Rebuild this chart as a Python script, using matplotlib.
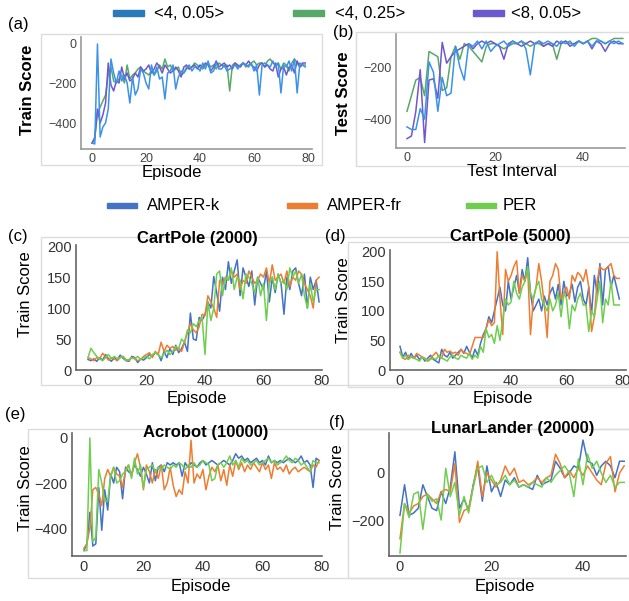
import numpy as np
import matplotlib.pyplot as plt
from matplotlib.patches import Rectangle

plt.rcParams['font.family'] = ['Liberation Sans', 'DejaVu Sans']

# ---- data ----
hp_labels = ['<4, 0.05>', '<4, 0.25>', '<8, 0.05>']
algo_labels = ['AMPER-k', 'AMPER-fr', 'PER']

# (a) train score per episode, three hyper-parameter settings
a_blue = [-500, -505, -5, -470, -420, -400, -330, -80, -150, -200, -140, -190, -160, -200, -300, -170,
          -260, -230, -130, -150, -200, -230, -110, -160, -120, -180, -170, -280, -150, -140, -110, -230,
          -170, -140, -150, -130, -110, -140, -120, -120, -140, -100, -130, -90, -150, -140, -100, -130,
          -130, -110, -140, -130, -120, -110, -130, -110, -100, -110, -120, -100, -140, -110, -260, -110,
          -100, -110, -120, -90, -120, -100, -250, -110, -120, -90, -140, -80, -250, -100, -110, -120]
a_green = [-500, -470, -350, -320, -290, -260, -160, -120, -190, -200, -180, -160, -200, -110, -180, -160,
           -150, -130, -120, -140, -150, -160, -140, -160, -140, -110, -130, -80, -120, -110, -140, -130,
           -120, -160, -150, -120, -130, -120, -100, -110, -120, -130, -110, -100, -120, -110, -130, -100,
           -110, -120, -110, -240, -110, -100, -120, -110, -100, -120, -110, -100, -90, -110, -100, -100,
           -120, -90, -80, -100, -110, -100, -130, -100, -110, -140, -100, -80, -100, -120, -110, -110]
a_purple = [-500, -480, -330, -400, -360, -300, -100, -210, -240, -190, -200, -120, -180, -150, -190, -180,
            -150, -170, -120, -140, -130, -110, -150, -130, -100, -120, -150, -110, -130, -150, -140, -120,
            -140, -170, -120, -110, -130, -120, -110, -130, -110, -120, -100, -110, -140, -120, -90, -120,
            -110, -100, -120, -110, -130, -100, -110, -120, -100, -110, -90, -110, -120, -140, -110, -100,
            -120, -110, -130, -140, -100, -170, -130, -120, -160, -120, -110, -150, -90, -120, -100, -100]

# (b) test score per test interval
b_blue = [-430, -440, -440, -360, -400, -180, -220, -370, -240, -310, -300, -120, -200, -250, -110, -120,
          -100, -130, -100, -140, -120, -110, -100, -120, -100, -110, -100, -130, -230, -110, -100, -110,
          -100, -110, -120, -100, -110, -100, -120, -100, -110, -100, -120, -100, -100, -110, -100, -110,
          -100, -110]
b_green = [-370, -310, -250, -240, -310, -140, -150, -160, -290, -280, -160, -120, -170, -110, -120, -140,
           -160, -180, -120, -110, -110, -120, -130, -120, -110, -110, -100, -110, -120, -110, -110, -120,
           -110, -110, -170, -110, -100, -110, -110, -100, -110, -100, -90, -90, -100, -110, -100, -90,
           -90, -90]
b_purple = [-475, -465, -370, -210, -490, -250, -245, -320, -105, -185, -160, -140, -130, -120, -110, -130,
            -110, -100, -110, -100, -110, -120, -170, -110, -100, -110, -120, -110, -100, -110, -100, -120,
            -110, -120, -100, -110, -100, -120, -110, -100, -110, -100, -130, -100, -110, -140, -110, -100,
            -110, -110]

# (c) CartPole (2000)
c_k = [17, 15, 18, 14, 20, 16, 25, 18, 14, 20, 17, 24, 19, 15, 14, 22, 20, 12, 18, 16,
       20, 25, 22, 28, 26, 15, 30, 20, 35, 25, 40, 28, 35, 45, 30, 92, 50, 48, 85, 80,
       90, 110, 100, 151, 125, 95, 150, 130, 175, 140, 160, 178, 120, 165, 150, 135, 160, 105, 150, 140,
       130, 160, 110, 150, 125, 155, 140, 90, 150, 130, 160, 165, 140, 120, 155, 100, 150, 130, 145, 110]
c_fr = [20, 18, 15, 20, 18, 27, 22, 16, 20, 18, 15, 20, 22, 17, 15, 20, 18, 15, 17, 22,
        25, 28, 20, 30, 25, 45, 30, 40, 35, 38, 32, 35, 30, 45, 60, 75, 65, 60, 70, 90,
        88, 120, 110, 100, 85, 145, 140, 150, 145, 160, 150, 155, 130, 145, 140, 160, 150, 140, 145, 155,
        150, 165, 140, 170, 145, 150, 155, 140, 160, 135, 150, 145, 160, 155, 140, 130, 120, 100, 145, 150]
c_per = [20, 35, 28, 22, 18, 15, 20, 25, 18, 22, 18, 20, 22, 15, 17, 20, 18, 22, 17, 20,
         22, 18, 25, 28, 24, 20, 26, 32, 25, 30, 38, 35, 50, 45, 65, 60, 75, 70, 80, 85,
         25, 110, 80, 100, 155, 160, 120, 150, 145, 165, 130, 150, 145, 115, 155, 150, 140, 125, 150, 120,
         140, 80, 140, 150, 130, 155, 140, 145, 130, 165, 150, 160, 140, 155, 120, 100, 140, 110, 130, 130]

# (d) CartPole (5000)
d_k = [40, 22, 30, 18, 28, 20, 25, 18, 22, 15, 20, 25, 18, 15, 12, 35, 25, 22, 30, 20,
       25, 30, 35, 28, 40, 30, 20, 35, 25, 45, 60, 70, 90, 80, 100, 120, 140, 110, 100, 150,
       120, 140, 160, 130, 170, 150, 190, 130, 100, 110, 120, 100, 125, 110, 130, 140, 120, 145, 110, 150,
       125, 130, 145, 115, 140, 150, 120, 110, 140, 95, 160, 130, 180, 110, 170, 175, 140, 160, 140, 120]
d_fr = [30, 20, 18, 25, 22, 20, 28, 25, 22, 18, 15, 20, 25, 30, 22, 20, 35, 30, 32, 28,
        30, 25, 35, 30, 28, 25, 40, 55, 55, 55, 55, 70, 85, 75, 80, 200, 120, 60, 170, 150,
        160, 175, 185, 130, 160, 150, 170, 60, 120, 140, 180, 150, 110, 55, 150, 160, 180, 170, 120, 130,
        140, 120, 160, 150, 165, 160, 150, 170, 140, 65, 90, 150, 175, 170, 170, 175, 180, 160, 155, 155]
d_per = [30, 20, 25, 18, 22, 20, 18, 15, 22, 20, 15, 18, 20, 18, 25, 20, 18, 15, 22, 25,
         20, 18, 25, 22, 20, 28, 18, 25, 20, 40, 30, 70, 55, 60, 45, 75, 50, 85, 120, 110,
         115, 150, 130, 120, 140, 150, 175, 130, 120, 140, 150, 120, 110, 100, 120, 100, 110, 130, 90, 130,
         120, 70, 110, 100, 120, 130, 110, 110, 65, 100, 90, 120, 150, 80, 120, 110, 150, 110, 110, 110]

# (e) Acrobot (10000)
e_k = [-500, -470, -330, -480, -470, -220, -410, -230, -320, -160, -200, -130, -150, -270, -130, -150,
       -160, -120, -140, -170, -130, -160, -200, -110, -190, -130, -120, -150, -110, -120, -110, -120,
       -110, -170, -110, -130, -110, -120, -130, -110, -100, -120, -110, -100, -110, -120, -110, -100,
       -110, -120, -100, -70, -90, -80, -100, -90, -110, -100, -90, -110, -100, -120, -80, -110,
       -100, -110, -100, -110, -100, -90, -100, -110, -100, -80, -110, -100, -120, -220, -90, -100]
e_fr = [-490, -470, -400, -230, -220, -250, -300, -180, -140, -170, -130, -160, -170, -220, -140, -120,
        -170, -110, -70, -130, -230, -120, -150, -200, -140, -180, -120, -230, -200, -130, -210, -260,
        -230, -250, -150, -200, -10, -200, -160, -180, -140, -230, -170, -130, -150, -120, -190, -140,
        -210, -120, -170, -100, -140, -110, -150, -120, -140, -110, -130, -150, -110, -140, -120, -180,
        -110, -140, -130, -150, -120, -160, -140, -130, -150, -140, -130, -140, -150, -120, -130, -100]
e_per = [-500, -500, 0, -460, -440, -140, -200, -280, -280, -170, -130, -200, -190, -160, -150, -120,
         -180, -90, -160, -120, -220, -140, -130, -120, -150, -130, -140, -120, -130, -140, -120, -130,
         -110, -120, -140, -120, -130, -110, -130, -120, -100, -110, -120, -190, -180, -120, -110, -130,
         -110, -80, -120, -100, -130, -90, -110, -100, -120, -110, -100, -120, -110, -100, -90, -110,
         -100, -120, -110, -100, -80, -100, -110, -90, -100, -120, -110, -130, -150, -100, -110, -110]

# (f) LunarLander (20000)
f_k = [-180, -50, -180, -170, -150, -50, -100, -150, -160, -80, -130, -60, 90, -150, -110, -160,
       -50, 30, -120, 30, -80, -40, -100, -30, -50, -20, -60, -50, -60, -70, -10, -50,
       -40, -30, 50, 20, -20, 0, 30, 20, 140, 50, 40, -10, 30, 50, 30, -20, 50, 50]
f_fr = [-280, -130, -170, -140, -130, -100, -90, -110, -130, -80, -70, -80, 40, -210, -160, -150,
        -60, 50, -100, 0, -30, -60, -30, 30, -10, 20, -40, -30, -50, -40, -20, -40,
        -20, -10, 80, 40, -20, 10, -20, 20, -10, 30, 0, -30, -50, 40, 70, -80, 0, 30]
f_per = [-340, -130, -190, -90, -80, -240, -90, -120, -110, -200, 20, -100, -40, -180, -100, -170,
         -60, 20, 30, -40, -10, -50, -40, -10, -50, -30, -60, -50, -60, -40, -50, -60,
         -20, -40, -10, 10, 30, 0, -100, 60, -50, 80, 20, 50, 0, -40, -10, -60, -40, -40]

# ---- styling ----
hp_line = ['#3a92ea', '#5aa868', '#6f58cf']
hp_patch = ['#2a7ab9', '#55a868', '#6a5acd']
algo_col = ['#4472c4', '#ed7d31', '#6fce4f']

W, H = 629, 601
fig = plt.figure(figsize=(W / 100, H / 100), dpi=100)


def add_ax(l, t, r, b):
    return fig.add_axes([l / W, 1 - b / H, (r - l) / W, (b - t) / H])


def txt(x, y, s, **kw):
    kw.setdefault('ha', 'center')
    kw.setdefault('va', 'center')
    fig.text(x / W, 1 - y / H, s, **kw)


def frame(l, t, r, b):
    fig.patches.append(Rectangle((l / W, 1 - b / H), (r - l) / W, (b - t) / H, transform=fig.transFigure,
                                 fill=False, edgecolor='#dcdcdc', lw=1, zorder=0))


def style(ax, size, tcol, scol):
    for s in ['top', 'right']:
        ax.spines[s].set_visible(False)
    for s in ['left', 'bottom']:
        ax.spines[s].set_color(scol)
        ax.spines[s].set_linewidth(1.2)
    ax.tick_params(length=0, labelsize=size, labelcolor=tcol, pad=3)


# frames of the original sub-figures
frame(41, 34, 322, 165)
frame(356, 32, 640, 166)
frame(41, 237, 640, 385)
frame(348, 242, 640, 387)
frame(28, 429, 640, 578)
frame(348, 429, 640, 578)

# top legend
for i, (x0, xt) in enumerate([(113, 154), (293, 335), (473, 511)]):
    fig.patches.append(Rectangle((x0 / W, 1 - 16 / H), 31 / W, 6 / H, transform=fig.transFigure,
                                 color=hp_patch[i]))
    txt(xt, 13, hp_labels[i], ha='left', fontsize=12)

# middle legend
for i, (x0, xt) in enumerate([(107, 147), (287, 327), (466, 503)]):
    fig.patches.append(Rectangle((x0 / W, 1 - 208 / H), 30 / W, 5 / H, transform=fig.transFigure,
                                 color=algo_col[i]))
    txt(xt, 206, algo_labels[i], ha='left', fontsize=12)

# (a)
ax = add_ax(81, 37, 312, 149)
ep = np.arange(len(a_blue))
ax.plot(ep, a_green, color=hp_line[1], lw=1.1)
ax.plot(ep, a_purple, color=hp_line[2], lw=1.1)
ax.plot(ep, a_blue, color=hp_line[0], lw=1.1)
ax.set_xlim(-4.1, 81.5)
ax.set_ylim(-530, 30)
ax.set_xticks([0, 20, 40, 60, 80])
ax.set_yticks([0, -200, -400])
style(ax, 9, '#444444', '#999999')
txt(18, 25, '(a)', fontsize=12)
txt(28, 90, 'Train Score', rotation=90, fontsize=12, fontweight='bold')
txt(172, 173, 'Episode', fontsize=12)

# (b)
ax = add_ax(396, 33, 625, 148)
ti = np.arange(len(b_blue))
ax.plot(ti, b_green, color=hp_line[1], lw=1.1)
ax.plot(ti, b_purple, color=hp_line[2], lw=1.1)
ax.plot(ti, b_blue, color=hp_line[0], lw=1.1)
ax.set_xlim(-2.5, 49.5)
ax.set_ylim(-511, -69)
ax.set_xticks([0, 20, 40])
ax.set_yticks([-200, -400])
style(ax, 9, '#444444', '#999999')
txt(343, 33, '(b)', fontsize=12)
txt(344, 93, 'Test Score', rotation=90, fontsize=12, fontweight='bold')
txt(512, 172, 'Test Interval', fontsize=12)


def algo_panel(l, t, r, b, ks, frs, pers, xlim, ylim, xt, yt, fs):
    ax = add_ax(l, t, r, b)
    x = np.arange(len(ks))
    ax.plot(x, ks, color=algo_col[0], lw=1.1)
    ax.plot(x, frs, color=algo_col[1], lw=1.1)
    ax.plot(x, pers, color=algo_col[2], lw=1.1)
    ax.set_xlim(*xlim)
    ax.set_ylim(*ylim)
    ax.set_xticks(xt)
    ax.set_yticks(yt)
    style(ax, fs, '#333333', '#666666')
    return ax


# (c)
algo_panel(76, 245, 322, 370, c_k, c_fr, c_per, (-4.1, 80), (0, 202),
           [0, 20, 40, 60, 80], [0, 50, 100, 150, 200], 10.5)
txt(18, 236, '(c)', fontsize=12)
txt(197, 238, 'CartPole (2000)', fontsize=12, fontweight='bold')
txt(26, 294, 'Train Score', rotation=90, fontsize=12)
txt(197, 398, 'Episode', fontsize=12)

# (d)
algo_panel(390, 250, 626, 370, d_k, d_fr, d_per, (-3.6, 81.4), (0, 203),
           [0, 20, 40, 60, 80], [0, 50, 100, 150, 200], 10.5)
txt(335, 237, '(d)', fontsize=12)
txt(510, 236, 'CartPole (5000)', fontsize=12, fontweight='bold')
txt(343, 300, 'Train Score', rotation=90, fontsize=12)
txt(503, 398, 'Episode', fontsize=12)

# (e)
algo_panel(72, 433, 322, 556, e_k, e_fr, e_per, (-4, 80), (-524, 22),
           [0, 20, 40, 60, 80], [0, -200, -400], 10.5)
txt(15, 415, '(e)', fontsize=12)
txt(206, 432, 'Acrobot (10000)', fontsize=12, fontweight='bold')
txt(26, 488, 'Train Score', rotation=90, fontsize=12)
txt(201, 587, 'Episode', fontsize=12)

# (f)
algo_panel(389, 433, 626, 556, f_k, f_fr, f_per, (-2.4, 49.4), (-353, 170),
           [0, 20, 40], [0, -200], 10.5)
txt(337, 423, '(f)', fontsize=12)
txt(513, 428, 'LunarLander (20000)', fontsize=12, fontweight='bold')
txt(337, 487, 'Train Score', rotation=90, fontsize=12)
txt(505, 587, 'Episode', fontsize=12)

fig.savefig('out.png', dpi=100)
